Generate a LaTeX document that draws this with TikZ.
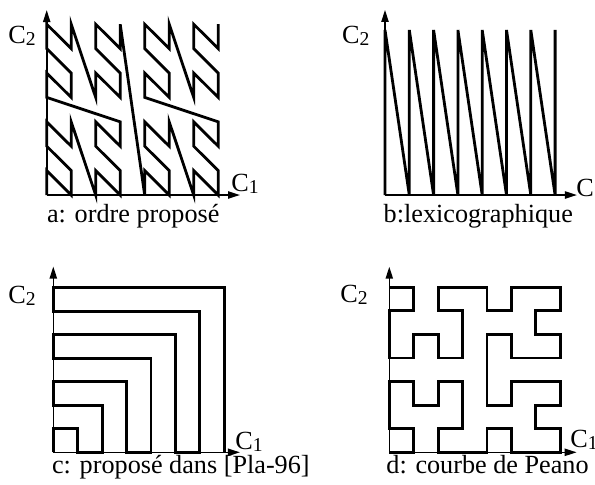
\documentclass[tikz,border=0pt]{standalone}
\usepackage{fontspec}
\setmainfont{Liberation Serif}
\usetikzlibrary{arrows.meta}
\tikzset{
  axis/.style={-{Triangle[length=6pt, width=3.6pt]}, line width=0.8pt},
  curve/.style={line width=1.4pt},
  lab/.style={anchor=base west, inner sep=0pt, font=\fontsize{13.1}{15}\selectfont}
}
\newcommand{\axlab}[1]{C\raisebox{-1.2pt}{\fontsize{9.8}{10}\selectfont #1}}

\begin{document}
\begin{tikzpicture}[x=0.5pt, y=-0.5pt]
  \useasboundingbox (0,0) rectangle (595,484);

  % a: ordre propose
  \begin{scope}[shift={(46.7,195)}, x=12.25pt, y=12.2pt]
    \coordinate (Oa) at (0,0);
    \coordinate (Xa) at (7.89,0);
    \coordinate (Ya) at (0,7.58);
    \draw[axis] (Oa) -- (Xa);
    \draw[axis] (Oa) -- (Ya);
    \draw[curve] (0,0) -- (0,1) -- (1,0) -- (1,1)
      \foreach \bx/\by in {0/2,2/0,2/2,0/4,0/6,2/4,2/6,4/0,4/2,6/0,6/2,4/4,4/6,6/4,6/6}
      { -- (\bx,\by) -- (\bx,\by+1) -- (\bx+1,\by) -- (\bx+1,\by+1) };
  \end{scope}
  \node[lab] (c2a) at (8,43) {\axlab{2}};
  \node[lab] (c1a) at (231,191) {\axlab{1}};
  \node[lab] (capa) at (46.7,222) {a: ordre proposé};

  % b: lexicographique
  \begin{scope}[shift={(385,195)}, x=12.15pt, y=11.79pt]
    \coordinate (Ob) at (0,0);
    \coordinate (Xb) at (7.9,0);
    \coordinate (Yb) at (0,7.85);
    \draw[axis] (Ob) -- (Xb);
    \draw[axis] (Ob) -- (Yb);
    \draw[curve] (0,0) -- (0,7)
      \foreach \k in {1,...,7} { -- (\k,0) -- (\k,7) };
  \end{scope}
  \node[lab] (c2b) at (341.7,43) {\axlab{2}};
  \node[lab] (c1b) at (576,196) {\axlab{1}};
  \node[lab] (capb) at (383.3,222) {b:lexicographique};

  % c: propose dans [Pla-96]
  \begin{scope}[shift={(53.3,452.3)}, x=12.2pt, y=11.76pt]
    \coordinate (Oc) at (0,0);
    \coordinate (Xc) at (7.65,0);
    \coordinate (Yc) at (0,7.9);
    \draw[axis] (Oc) -- (Xc);
    \draw[axis] (Oc) -- (Yc);
    \draw[curve] (0,0) -- (0,1) -- (1,1) -- (1,0) -- (2,0) -- (2,2) -- (0,2)
      -- (0,3) -- (3,3) -- (3,0) -- (4,0) -- (4,4) -- (0,4)
      -- (0,5) -- (5,5) -- (5,0) -- (6,0) -- (6,6) -- (0,6)
      -- (0,7) -- (7,7) -- (7,0);
  \end{scope}
  \node[lab] (c2c) at (8,303) {\axlab{2}};
  \node[lab] (c1c) at (235,449) {\axlab{1}};
  \node[lab] (capc) at (51.7,473.5) {c: proposé dans [Pla-96]};

  % d: courbe de Peano
  \begin{scope}[shift={(389.3,452.3)}, x=12.2pt, y=11.79pt]
    \coordinate (Od) at (0,0);
    \coordinate (Xd) at (7.68,0);
    \coordinate (Yd) at (0,7.87);
    \draw[axis] (Od) -- (Xd);
    \draw[axis] (Od) -- (Yd);
    \draw[curve] (0,0)
      \foreach \px/\py in {1/0,1/1,0/1,0/2,0/3,1/3,1/2,2/2,2/3,3/3,3/2,3/1,2/1,2/0,3/0,
        4/0,4/1,5/1,5/0,6/0,7/0,7/1,6/1,6/2,7/2,7/3,6/3,5/3,5/2,4/2,4/3,
        4/4,4/5,5/5,5/4,6/4,7/4,7/5,6/5,6/6,7/6,7/7,6/7,5/7,5/6,4/6,4/7,
        3/7,2/7,2/6,3/6,3/5,3/4,2/4,2/5,1/5,1/4,0/4,0/5,0/6,1/6,1/7,0/7}
      { -- (\px,\py) };
  \end{scope}
  \node[lab] (c2d) at (340,302) {\axlab{2}};
  \node[lab] (c1d) at (570,447) {\axlab{1}};
  \node[lab] (capd) at (386,473.5) {d: courbe de Peano};
\end{tikzpicture}
\end{document}
